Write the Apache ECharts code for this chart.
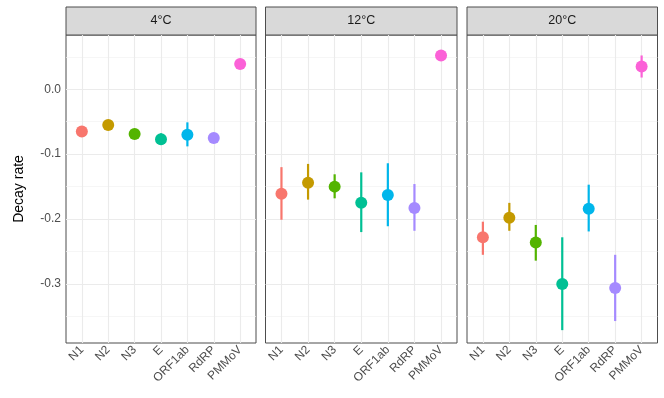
<!DOCTYPE html>
<html><head><meta charset="utf-8">
<script src="https://cdn.jsdelivr.net/npm/echarts@6/dist/echarts.min.js"></script>
<style>html,body{margin:0;padding:0;background:#fff}#c{width:664px;height:398px}</style>
</head><body><div id="c"></div>
<script>
var categories = ['N1','N2','N3','E','ORF1ab','RdRP','PMMoV'];
var panels = ['4°C','12°C','20°C'];
var colors = ['#F8766D','#C49A00','#53B400','#00C094','#00B6EB','#A58AFF','#FB61D7'];
var yTicks = [-0.3,-0.2,-0.1,0.0];
var yMinor = [-0.35,-0.25,-0.15,-0.05,0.05];
// estimates, lower, upper per panel
var est4  = [-0.065,-0.055,-0.069,-0.077,-0.070,-0.075,0.039];
var lo4   = [-0.068,-0.058,-0.072,-0.083,-0.088,-0.078,0.036];
var hi4   = [-0.062,-0.052,-0.066,-0.068,-0.051,-0.072,0.042];
var est12 = [-0.161,-0.144,-0.150,-0.175,-0.163,-0.183,0.052];
var lo12  = [-0.201,-0.170,-0.168,-0.220,-0.211,-0.218,0.049];
var hi12  = [-0.120,-0.115,-0.131,-0.128,-0.114,-0.146,0.055];
var est20 = [-0.228,-0.198,-0.236,-0.300,-0.184,-0.306,0.035];
var lo20  = [-0.255,-0.218,-0.264,-0.371,-0.219,-0.357,0.018];
var hi20  = [-0.204,-0.175,-0.209,-0.228,-0.147,-0.255,0.052];

var ests=[est4,est12,est20], los=[lo4,lo12,lo20], his=[hi4,hi12,hi20];
var Y_MIN=-0.3908, Y_MAX=0.0835;
var lefts=[66,265.5,467], widths=[190,191.5,190.5];
var gridTop=35, gridBottom=55;
var chart=echarts.init(document.getElementById('c'),null,{renderer:'canvas'});
var grids=[],xAxes=[],yAxes=[],series=[],graphics=[];
var idx=categories.map(function(c,i){return i;});
for(var p=0;p<3;p++){
  grids.push({left:lefts[p],width:widths[p],top:gridTop,bottom:gridBottom,show:true,borderColor:'#4d4d4d',borderWidth:1,backgroundColor:'#fff',containLabel:false});
  xAxes.push({type:'value',gridIndex:p,min:-0.6,max:categories.length-0.4,
    axisLine:{show:false},splitLine:{show:false},
    axisTick:{show:true,customValues:idx,length:3,lineStyle:{color:'#333',width:1}},
    axisLabel:{customValues:idx,formatter:function(v){return categories[Math.round(v)];},rotate:45,fontSize:12,color:'#4D4D4D',fontFamily:'Liberation Sans, Arial',margin:5}});
  yAxes.push({type:'value',gridIndex:p,min:Y_MIN,max:Y_MAX,
    axisLine:{show:false},splitLine:{show:false},
    axisTick:{show:p===0,customValues:yTicks,length:3,lineStyle:{color:'#333'}},
    axisLabel:{show:p===0,customValues:yTicks,formatter:function(v){return v.toFixed(1);},fontSize:12,color:'#4D4D4D',fontFamily:'Liberation Sans, Arial',margin:5},
    name:p===0?'Decay rate':'',nameLocation:'middle',nameGap:40,nameRotate:90,nameTextStyle:{fontSize:14,color:'#000',fontFamily:'Liberation Sans, Arial'}});
  var ml=[];
  yTicks.forEach(function(v){ml.push({yAxis:v,lineStyle:{color:'#EBEBEB',width:1.1,type:'solid'}});});
  yMinor.forEach(function(v){ml.push({yAxis:v,lineStyle:{color:'#F2F2F2',width:0.7,type:'solid'}});});
  idx.forEach(function(i){ml.push({xAxis:i,lineStyle:{color:'#EBEBEB',width:1.1,type:'solid'}});});
  series.push({type:'scatter',xAxisIndex:p,yAxisIndex:p,data:[],z:1,silent:true,
    markLine:{silent:true,z:1,symbol:['none','none'],label:{show:false},animation:false,data:ml}});
  (function(p){
    series.push({type:'custom',xAxisIndex:p,yAxisIndex:p,z:3,animation:false,
      data:categories.map(function(c,i){return [i,los[p][i],his[p][i]];}),
      renderItem:function(params,api){
        var i=api.value(0);
        var a=api.coord([i,api.value(1)]), b=api.coord([i,api.value(2)]);
        return {type:'line',shape:{x1:a[0],y1:a[1],x2:b[0],y2:b[1]},style:{stroke:colors[i],lineWidth:2.2}};
      }});
    series.push({type:'scatter',xAxisIndex:p,yAxisIndex:p,z:4,animation:false,symbolSize:12,
      data:categories.map(function(c,i){return {value:[i,ests[p][i]],itemStyle:{color:colors[i],opacity:1}};})});
  })(p);
  graphics.push({type:'rect',shape:{x:lefts[p],y:7,width:widths[p],height:28},style:{fill:'#D9D9D9',stroke:'#4d4d4d',lineWidth:1}});
  graphics.push({type:'text',x:lefts[p]+widths[p]/2,y:21,style:{text:panels[p],fill:'#1A1A1A',fontSize:12.5,fontFamily:'Liberation Sans, Arial',textAlign:'center',textVerticalAlign:'middle'}});
}
chart.setOption({animation:false,grid:grids,xAxis:xAxes,yAxis:yAxes,series:series,graphic:graphics});
</script></body></html>
